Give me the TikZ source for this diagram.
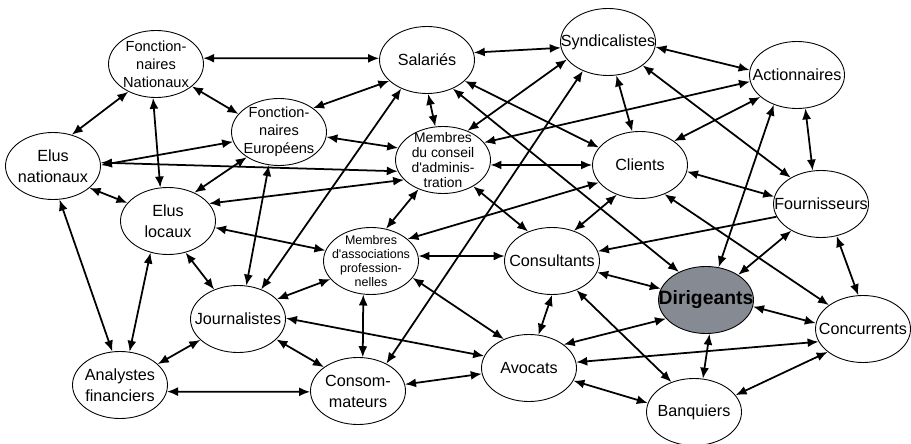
\documentclass[tikz,border=0pt]{standalone}
\usepackage{fontspec}
\setmainfont{Liberation Sans}
\usetikzlibrary{arrows.meta,shapes.geometric}
\definecolor{dirgray}{RGB}{134,139,147}

\begin{document}
\begin{tikzpicture}[x=0.2mm, y=-0.2mm,
  ell/.style={draw, ellipse, line width=0.5pt, inner sep=0pt,
    minimum width=1.9cm, minimum height=1.34cm},
  big/.style={align=center, font=\fontsize{9.2}{12}\selectfont},
  mid/.style={align=center, font=\fontsize{8.3}{10.2}\selectfont},
  sml/.style={align=center, font=\fontsize{7.9}{8.6}\selectfont},
  tny/.style={align=center, font=\fontsize{7.1}{7.9}\selectfont},
  link/.style={line width=1pt, {Latex[length=2.2mm,width=1.8mm]}-{Latex[length=2.2mm,width=1.8mm]}},
  oneway/.style={line width=1pt, -{Latex[length=2.2mm,width=1.8mm]}}]

\useasboundingbox (0,0) rectangle (911,444);

% actors
\node[ell, label={[mid]center:Fonction-\\naires\\Nationaux}] (fn) at (156,64) {};
\node[ell, label={[mid]center:Fonction-\\naires\\Européens}] (fe) at (279,132) {};
\node[ell, label={[big]center:Elus\\nationaux}] (en) at (53,166) {};
\node[ell, label={[big]center:Elus\\locaux}] (el) at (168,221) {};
\node[ell, label={[big]center:Salariés}] (sal) at (427,60) {};
\node[ell, label={[big]center:Syndicalistes}] (syn) at (608,42) {};
\node[ell, label={[big]center:Actionnaires}] (act) at (797,75) {};
\node[ell, label={[sml]center:Membres\\du conseil\\d\textquotesingle adminis-\\tration}] (mca) at (443,160) {};
\node[ell, label={[big]center:Clients}] (cli) at (640,165) {};
\node[ell, label={[big]center:Fournisseurs}] (fou) at (821,204) {};
\node[ell, label={[tny]center:Membres\\d\textquotesingle associations\\profession-\\nelles}] (map) at (371,261) {};
\node[ell, label={[big]center:Consultants}] (con) at (552,261) {};
\node[ell, fill=dirgray, label={[font=\fontsize{11}{13}\selectfont\bfseries]center:Dirigeants}] (dir) at (706,300) {};
\node[ell, label={[big]center:Journalistes}] (jou) at (238,319) {};
\node[ell, label={[big]center:Concurrents}] (cnc) at (863,329) {};
\node[ell, label={[big]center:Analystes\\financiers}] (ana) at (120,385) {};
\node[ell, label={[big]center:Consom-\\mateurs}] (cso) at (358,391) {};
\node[ell, label={[big]center:Avocats}] (avo) at (529,368) {};
\node[ell, label={[big]center:Banquiers}] (ban) at (694,412) {};

% relations
\draw[link] (fn.7) -- (sal.178);
\draw[link] (fn.225) -- (en.59);
\draw[link] (fn.265) -- (el.103);
\draw[link] (fn.328) -- (fe.156);
\draw[link] (fe.192) -- (en.1);
\draw[link] (en.4) -- (mca.194);
\draw[link] (el.23) -- (mca.207);
\draw[link] (fe.354) -- (mca.165);
\draw[link] (fe.218) -- (el.47);
\draw[link] (fe.35) -- (sal.209);
\draw[link] (fe.253) -- (jou.76);
\draw[link] (en.329) -- (el.156);
\draw[link] (en.281) -- (ana.103);
\draw[link] (el.241) -- (ana.74);
\draw[link] (el.299) -- (jou.129);
\draw[link] (el.352) -- (map.167);
\draw[link] (jou.52) -- (sal.228);
\draw[link] (jou.27) -- (map.204);
\draw[link] (jou.1) -- (avo.165);
\draw[link] (jou.332) -- (cso.145);
\draw[link] (jou.209) -- (ana.29);
\draw[link] (ana.352) -- (cso.181);
\draw[link] (map.6) -- (con.174);
\draw[link] (map.257) -- (cso.82);
\draw[link] (map.338) -- (avo.131);
\draw[link] (cso.8) -- (avo.187);
\draw[link] (cso.44) -- (syn.229);
\draw[link] (con.270) -- (avo.74);
\draw[link] (map.31) -- (cli.203);
\draw[link] (map.65) -- (mca.230);
\draw[link] (mca.319) -- (con.129);
\draw[link] (mca.103) -- (sal.272);
\draw[link] (mca.50) -- (syn.203);
\draw[link] (mca.354) -- (cli.180);
\draw[link] (mca.23) -- (act.188);
\draw[link] (sal.9) -- (syn.187);
\draw[link] (sal.331) -- (cli.157);
\draw[link] (sal.312) -- (dir.134);
\draw[link] (syn.284) -- (cli.103);
\draw[link] (syn.354) -- (act.174);
\draw[link] (syn.326) -- (fou.139);
\draw[link] (act.211) -- (cli.35);
\draw[link] (act.284) -- (fou.104);
\draw[link] (act.232) -- (dir.69);
\draw[link] (cli.352) -- (fou.171);
\draw[link] (cli.310) -- (cnc.145);
\draw[link] (cli.232) -- (con.54);
\draw[oneway] (fou.196) -- (con.12);
\draw[link] (fou.222) -- (dir.38);
\draw[link] (fou.296) -- (cnc.98);
\draw[link] (con.346) -- (dir.166);
\draw[link] (dir.352) -- (cnc.173);
\draw[link] (dir.276) -- (ban.75);
\draw[link] (cnc.213) -- (ban.22);
\draw[link] (avo.34) -- (dir.205);
\draw[link] (avo.7) -- (cnc.196);
\draw[link] (con.310) -- (ban.127);
\draw[link] (avo.344) -- (ban.169);

\end{tikzpicture}
\end{document}
